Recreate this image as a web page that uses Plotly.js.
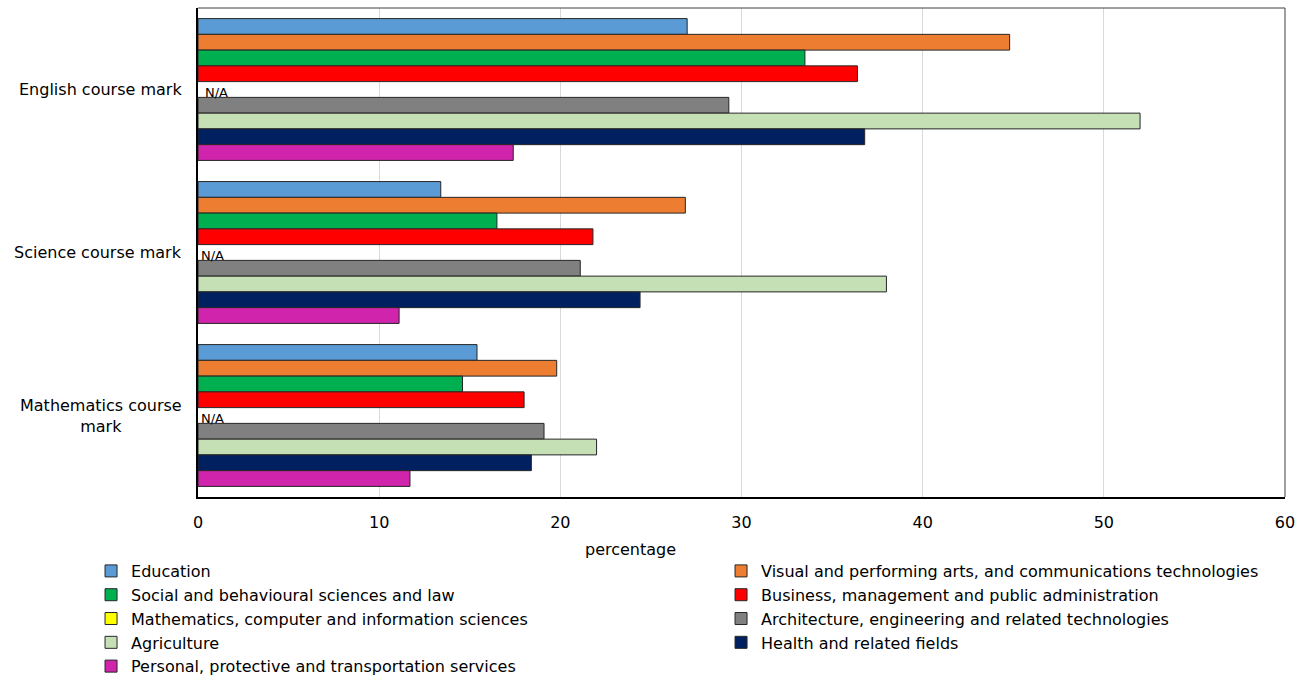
<!DOCTYPE html>
<html>
<head>
<meta charset="utf-8">
<script src="https://cdn.plot.ly/plotly-3.0.1.min.js"></script>
<style>body{margin:0;padding:0;background:#fff;} #chart{width:1307px;height:675px;}</style>
</head>
<body>
<div id="chart"></div>
<script>
var categories = ["English course mark", "Science course mark", "Mathematics course mark"];
var categoryLabels = ["English course mark", "Science course mark", "Mathematics course<br>mark"];
var seriesNames = [
  "Education",
  "Visual and performing arts, and communications technologies",
  "Social and behavioural sciences and law",
  "Business, management and public administration",
  "Mathematics, computer and information sciences",
  "Architecture, engineering and related technologies",
  "Agriculture",
  "Health and related fields",
  "Personal, protective and transportation services"
];
var seriesColors = ["#5B9BD5", "#ED7D31", "#00B050", "#FF0000", "#FFFF00", "#808080", "#C5E0B4", "#002060", "#D024AC"];
var education      = [27.0, 13.4, 15.4];
var visualArts     = [44.8, 26.9, 19.8];
var socialSciences = [33.5, 16.5, 14.6];
var business       = [36.4, 21.8, 18.0];
var mathComputer   = [null, null, null];
var architecture   = [29.3, 21.1, 19.1];
var agriculture    = [52.0, 38.0, 22.0];
var health         = [36.8, 24.4, 18.4];
var personal       = [17.4, 11.1, 11.7];
var naLabel = "N/A";
var xTicks = [0, 10, 20, 30, 40, 50, 60];
var xTitle = "percentage";

var seriesValues = [education, visualArts, socialSciences, business, mathComputer, architecture, agriculture, health, personal];

var font = "DejaVu Sans, Verdana, sans-serif";
var traces = seriesNames.map(function(name, i) {
  return {
    type: "bar",
    orientation: "h",
    name: name,
    y: categories,
    x: seriesValues[i],
    marker: {color: seriesColors[i], line: {color: "#262626", width: 1}},
    hoverinfo: "x+name"
  };
});

var annotations = [];
categories.forEach(function(c, i) {
  annotations.push({
    xref: "paper", yref: "y", x: -0.013, y: c,
    xanchor: "right", yanchor: "middle", align: "center",
    text: categoryLabels[i], showarrow: false,
    font: {family: font, size: 16, color: "#000"}
  });
  if (mathComputer[i] === null) {
    annotations.push({
      xref: "x", yref: "y", x: 0, y: c,
      xanchor: "left", yanchor: "middle", xshift: i === 0 ? 5 : 1, yshift: -3,
      text: naLabel, showarrow: false,
      font: {family: font, size: 13, color: "#000"}
    });
  }
});
annotations.push({
  xref: "paper", yref: "paper", x: 0.398, y: -0.108,
  xanchor: "center", yanchor: "middle",
  text: xTitle, showarrow: false,
  font: {family: font, size: 16, color: "#000"}
});

var layout = {
  width: 1307, height: 675,
  margin: {l: 198, r: 22, t: 8, b: 178, pad: 0, autoexpand: false},
  paper_bgcolor: "#fff", plot_bgcolor: "#fff",
  barmode: "group", bargap: 0.13, bargroupgap: 0,
  font: {family: font, size: 16, color: "#000"},
  showlegend: true,
  legend: {
    orientation: "h", x: -0.0984, xanchor: "left", y: -0.1166, yanchor: "top",
    entrywidth: 585, entrywidthmode: "pixels",
    font: {family: font, size: 16, color: "#000"},
    itemwidth: 30, tracegroupgap: 0, traceorder: "normal"
  },
  xaxis: {
    range: [0, 60], tickvals: xTicks, ticktext: xTicks.map(String),
    showgrid: true, gridcolor: "#D9D9D9", gridwidth: 1,
    zeroline: false, showline: true, linecolor: "#000", linewidth: 2,
    ticks: "", ticklabelstandoff: 10,
    tickfont: {family: font, size: 16, color: "#000"}
  },
  yaxis: {
    type: "category", autorange: "reversed",
    showticklabels: false, showgrid: false, zeroline: false,
    showline: true, linecolor: "#000", linewidth: 2, ticks: ""
  },
  shapes: [
    {type: "line", xref: "paper", yref: "paper", x0: 0, x1: 1, y0: 1, y1: 1, line: {color: "#404040", width: 1}},
    {type: "line", xref: "paper", yref: "paper", x0: 1, x1: 1, y0: 0, y1: 1, line: {color: "#404040", width: 1}}
  ],
  annotations: annotations
};

Plotly.newPlot("chart", traces, layout, {displayModeBar: false, staticPlot: true});
</script>
</body>
</html>
